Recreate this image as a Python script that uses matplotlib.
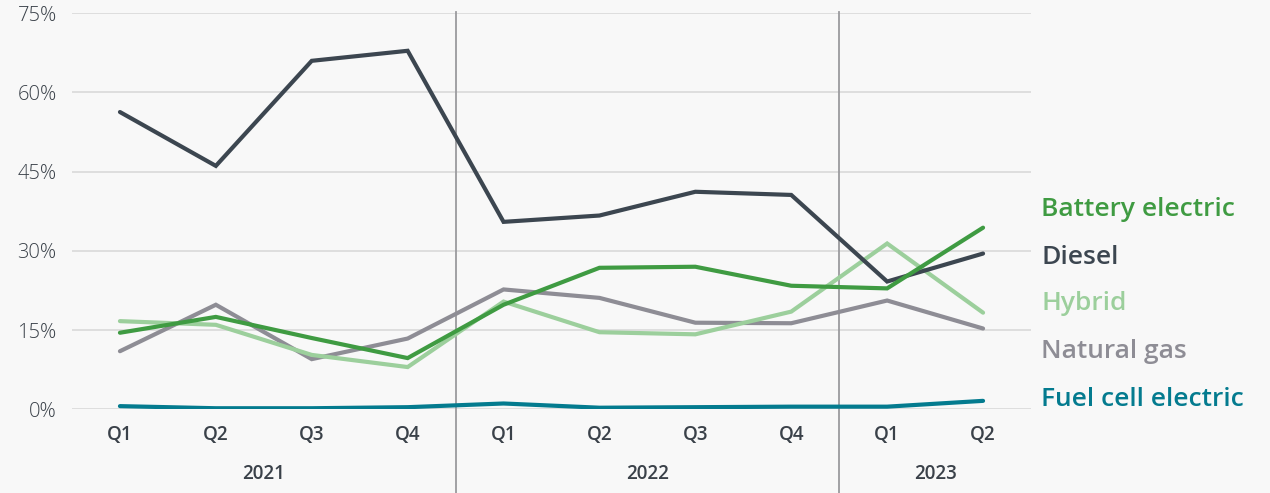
import matplotlib.pyplot as plt
import numpy as np

plt.rcParams['font.family'] = ['Open Sans', 'DejaVu Sans']

# data (share of sales, %)
quarters = ["Q1", "Q2", "Q3", "Q4", "Q1", "Q2", "Q3", "Q4", "Q1", "Q2"]
years = ["2021", "2022", "2023"]
year_groups = [[0, 1, 2, 3], [4, 5, 6, 7], [8, 9]]

diesel = [56.3, 46.1, 66.0, 67.9, 35.5, 36.7, 41.2, 40.6, 24.2, 29.5]
battery = [14.5, 17.5, 13.5, 9.7, 19.8, 26.8, 27.0, 23.4, 22.9, 34.4]
hybrid = [16.7, 16.0, 10.3, 8.0, 20.4, 14.6, 14.2, 18.5, 31.4, 18.3]
natgas = [11.0, 19.8, 9.5, 13.4, 22.7, 21.1, 16.4, 16.3, 20.6, 15.3]
fuelcell = [0.6, 0.2, 0.2, 0.4, 1.1, 0.3, 0.4, 0.5, 0.5, 1.6]

bg = "#f8f8f8"
txt = "#3a4149"

series = [
    ("Battery electric", battery, "#3f9b42", 210),
    ("Diesel", diesel, "#3c4650", 257),
    ("Hybrid", hybrid, "#9ccf9c", 304),
    ("Natural gas", natgas, "#8e8d95", 352),
    ("Fuel cell electric", fuelcell, "#047b8f", 400),
]

fig = plt.figure(figsize=(12.7, 4.93), dpi=100, facecolor=bg)
ax = fig.add_axes([72 / 1270, 1 - 409.3 / 493, (1031 - 72) / 1270, 396 / 493])
ax.set_facecolor(bg)

x = np.arange(len(quarters))

# draw order: grey/light first, dark and strong colours on top
for name, vals, col, _ in [series[3], series[2], series[1], series[0], series[4]]:
    ax.plot(x, vals, color=col, lw=3, solid_capstyle="round", solid_joinstyle="miter", zorder=3)

for i, (name, vals, col, ypix) in enumerate(series):
    fig.text(1041 / 1270, 1 - ypix / 493, name, color=col, fontsize=19,
             fontweight="semibold", va="center", ha="left")

ax.set_xlim(-0.5, 9.5)
ax.set_ylim(0, 75)
ax.set_yticks([0, 15, 30, 45, 60, 75])
ax.set_yticklabels(["0%", "15%", "30%", "45%", "60%", "75%"])
ax.grid(axis="y", color="#dcdcdc", lw=1.3)
ax.set_axisbelow(True)
for s in ax.spines.values():
    s.set_visible(False)
ax.tick_params(axis="y", length=0, pad=11, labelsize=14.5, labelcolor=txt)
ax.set_xticks(x)
ax.set_xticklabels(quarters)
ax.tick_params(axis="x", length=0, pad=11, labelsize=13.5, labelcolor=txt)
for lab in ax.get_xticklabels():
    lab.set_fontweight("semibold")
for lab in ax.get_yticklabels():
    lab.set_fontweight("light")

# year separators
for sep in [3.5, 7.5]:
    ax.plot([sep, sep], [75.3, -18], color="#9a9a9e", lw=1.3, clip_on=False, zorder=1)

for yr, grp in zip(years, year_groups):
    ax.text(np.mean([x[i] for i in grp]), -12.2, yr, ha="center", va="center",
            fontsize=13.5, fontweight="semibold", color=txt)

fig.savefig("out.png", dpi=100, facecolor=bg)
